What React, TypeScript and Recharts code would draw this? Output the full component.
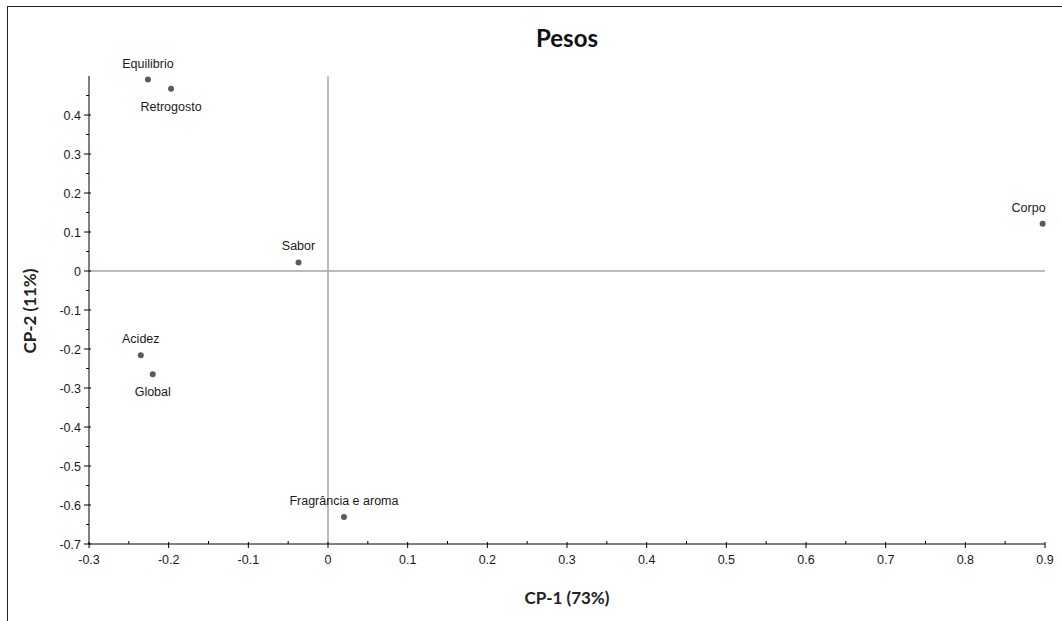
import { ScatterChart, Scatter, XAxis, YAxis, ReferenceLine } from "recharts";

const NAMES = [
  "Equilibrio",
  "Retrogosto",
  "Sabor",
  "Corpo",
  "Acidez",
  "Global",
  "Fragrância e aroma",
];
const CP1 = [-0.226, -0.197, -0.037, 0.897, -0.235, -0.22, 0.02];
const CP2 = [0.491, 0.467, 0.022, 0.121, -0.216, -0.265, -0.631];
// where the name goes relative to its point
const LABEL_SIDE = ["above", "below", "above", "above-left", "above", "below", "above"];

const X_TICKS = [
  -0.3, -0.25, -0.2, -0.15, -0.1, -0.05, 0, 0.05, 0.1, 0.15, 0.2, 0.25, 0.3, 0.35, 0.4,
  0.45, 0.5, 0.55, 0.6, 0.65, 0.7, 0.75, 0.8, 0.85, 0.9,
];
const Y_TICKS = [
  -0.7, -0.65, -0.6, -0.55, -0.5, -0.45, -0.4, -0.35, -0.3, -0.25, -0.2, -0.15, -0.1,
  -0.05, 0, 0.05, 0.1, 0.15, 0.2, 0.25, 0.3, 0.35, 0.4, 0.45,
];

const data = NAMES.map((name, i) => ({ name, x: CP1[i], y: CP2[i], side: LABEL_SIDE[i] }));

const FONT = "'Liberation Sans', Arial, sans-serif";
const isMajor = (v: number) => Math.round(v * 100) % 10 === 0;
const fmt = (v: number) => String(Math.round(v * 10) / 10);

function XTick(props: any) {
  const { x, y, payload } = props;
  const major = isMajor(payload.value);
  return (
    <g>
      {major ? (
        <line x1={x} x2={x} y1={y - 2} y2={y + 4} stroke="#000" />
      ) : (
        <line x1={x} x2={x} y1={y - 3} y2={y} stroke="#000" />
      )}
      {major && (
        <text x={x} y={y + 20} textAnchor="middle" fontSize={12.5} fontFamily={FONT} fill="#1a1a1a">
          {fmt(payload.value)}
        </text>
      )}
    </g>
  );
}

function YTick(props: any) {
  const { x, y, payload } = props;
  const major = isMajor(payload.value);
  return (
    <g>
      {major ? (
        <line x1={x - 5} x2={x + 2} y1={y} y2={y} stroke="#000" />
      ) : (
        <line x1={x - 3} x2={x} y1={y} y2={y} stroke="#000" />
      )}
      {major && (
        <text x={x - 8} y={y + 4.5} textAnchor="end" fontSize={12.5} fontFamily={FONT} fill="#1a1a1a">
          {fmt(payload.value)}
        </text>
      )}
    </g>
  );
}

function Dot(props: any) {
  const { cx, cy, payload } = props;
  const side = payload.side;
  let tx = cx;
  let ty = cy - 12;
  let anchor: "middle" | "end" = "middle";
  if (side === "below") ty = cy + 22;
  if (side === "above-left") {
    tx = cx + 3;
    anchor = "end";
  }
  return (
    <g>
      <circle cx={cx} cy={cy} r={3} fill="#5a5a5a" />
      <text x={tx} y={ty} textAnchor={anchor} fontSize={12.5} fontFamily={FONT} fill="#1a1a1a">
        {payload.name}
      </text>
    </g>
  );
}

export default function App() {
  return (
    <div
      style={{
        position: "absolute",
        left: 0,
        top: 0,
        width: 1062,
        height: 621,
        background: "#fff",
        overflow: "hidden",
      }}
    >
      <div
        style={{
          position: "absolute",
          left: 7,
          top: 6,
          width: 1062,
          height: 621,
          borderLeft: "1px solid #222",
          borderTop: "1px solid #222",
        }}
      />
      <ScatterChart
        width={1062}
        height={621}
        margin={{ top: 76, right: 17, bottom: 47, left: 29 }}
      >
        <XAxis
          type="number"
          dataKey="x"
          domain={[-0.3, 0.9]}
          ticks={X_TICKS}
          interval={0}
          height={30}
          tickLine={false}
          tickSize={0}
          tickMargin={0}
          tick={<XTick />}
          axisLine={{ stroke: "#000" }}
        />
        <YAxis
          type="number"
          dataKey="y"
          domain={[-0.7, 0.5]}
          ticks={Y_TICKS}
          interval={0}
          width={60}
          tickLine={false}
          tickSize={0}
          tickMargin={0}
          tick={<YTick />}
          axisLine={{ stroke: "#000" }}
        />
        <ReferenceLine x={0} stroke="#a6a6a6" strokeWidth={1.5} />
        <ReferenceLine y={0} stroke="#a6a6a6" strokeWidth={1.5} />
        <Scatter data={data} shape={<Dot />} isAnimationActive={false} />
      </ScatterChart>
      <div
        style={{
          position: "absolute",
          left: 467,
          top: 22,
          width: 200,
          textAlign: "center",
          fontFamily: "Lato, 'Open Sans', sans-serif",
          fontWeight: 700,
          fontSize: 24,
          color: "#111",
          lineHeight: "32px",
        }}
      >
        Pesos
      </div>
      <div
        style={{
          position: "absolute",
          left: 467,
          top: 586,
          width: 200,
          textAlign: "center",
          fontFamily: "Lato, 'Open Sans', sans-serif",
          fontWeight: 700,
          fontSize: 17,
          color: "#222",
          lineHeight: "24px",
        }}
      >
        CP-1 (73%)
      </div>
      <div
        style={{
          position: "absolute",
          left: 30 - 100,
          top: 311 - 12,
          width: 200,
          textAlign: "center",
          fontFamily: "Lato, 'Open Sans', sans-serif",
          fontWeight: 700,
          fontSize: 17,
          color: "#222",
          lineHeight: "24px",
          transform: "rotate(-90deg)",
        }}
      >
        CP-2 (11%)
      </div>
    </div>
  );
}
